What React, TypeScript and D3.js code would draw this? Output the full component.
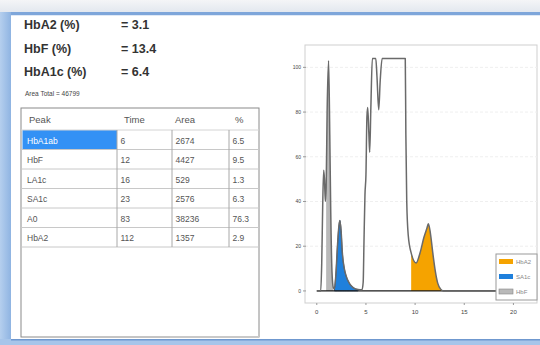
import { useMemo } from "react";
import { area, curveMonotoneX, line, scaleLinear } from "d3";

// summary values shown at the top left
const summaryLabels = ["HbA2 (%)", "HbF (%)", "HbA1c (%)"];
const summaryValues = ["= 3.1", "= 13.4", "= 6.4"];
const areaTotal = "Area Total = 46799";

// peak table
const tableHeader = ["Peak", "Time", "Area", "%"];
const peakNames = ["HbA1ab", "HbF", "LA1c", "SA1c", "A0", "HbA2"];
const peakTimes = ["6", "12", "16", "23", "83", "112"];
const peakAreas = ["2674", "4427", "529", "2576", "38236", "1357"];
const peakPercents = ["6.5", "9.5", "1.3", "6.3", "76.3", "2.9"];

// chromatogram trace: [time, signal]
const trace: [number, number][] = [
  [0, 0], [0.4, 0], [0.5, 12], [0.6, 38], [0.7, 54], [0.78, 50], [0.87, 40],
  [0.95, 46], [1.05, 80], [1.2, 103], [1.32, 70], [1.42, 35], [1.55, 8], [1.68, 1.5],
  [1.8, 1], [1.95, 8], [2.1, 20], [2.25, 29], [2.35, 31.5], [2.47, 27], [2.6, 17],
  [2.8, 10], [3.0, 6.5], [3.3, 3.5], [3.7, 1.5], [4.2, 0.6], [4.6, 0.5],
  [4.72, 4], [4.8, 22], [4.9, 43], [5.0, 52], [5.1, 78], [5.18, 82], [5.3, 70],
  [5.38, 62], [5.5, 82], [5.65, 104], [6.0, 104], [6.12, 96], [6.3, 81], [6.45, 94],
  [6.65, 104], [9.0, 104], [9.06, 70], [9.15, 40], [9.3, 25], [9.6, 17],
  [10.1, 12.5], [10.5, 17], [10.9, 24], [11.2, 28], [11.35, 30], [11.55, 26],
  [11.8, 17], [12.05, 9], [12.3, 3.5], [12.6, 0.8], [12.85, 0], [22.4, 0],
];

// highlighted peaks (legend order)
const legendNames = ["HbA2", "SA1c", "HbF"];
const legendColors = ["#f5a300", "#1f80dc", "#b9b9b9"];
const fillRanges: [number, number][] = [[9.4, 12.85], [1.8, 4.4], [0.9, 1.68]];

const yTicks = [0, 20, 40, 60, 80, 100];
const xTicks = [0, 5, 10, 15, 20];

const font = "'Liberation Sans', Arial, sans-serif";

export default function App() {
  const frame = { left: 305, right: 537, top: 45, bottom: 303 };
  const x = scaleLinear().domain([-1.2, 22.4]).range([frame.left, frame.right]);
  const y = scaleLinear().domain([-5.4, 110]).range([frame.bottom, frame.top]);

  const linePath = useMemo(
    () =>
      line<[number, number]>()
        .x((d) => x(d[0]))
        .y((d) => y(d[1]))
        .curve(curveMonotoneX)(trace) ?? "",
    []
  );

  const fillPaths = fillRanges.map(([a, b]) =>
    area<[number, number]>()
      .x((d) => x(d[0]))
      .y0(y(0))
      .y1((d) => y(d[1]))
      .curve(curveMonotoneX)(trace.filter((d) => d[0] >= a && d[0] <= b)) ?? ""
  );

  // table geometry
  const tLeft = 21;
  const tRight = 259;
  const tTop = 108;
  const headH = 22;
  const rowH = 19.5;
  const colX = [21, 117, 172, 229, 259];
  const rows = peakNames.map((name, i) => [name, peakTimes[i], peakAreas[i], peakPercents[i]]);

  return (
    <div style={{ position: "absolute", left: 0, top: 0 }}>
      <svg width={540} height={345} style={{ display: "block", fontFamily: font }}>
        <defs>
          <linearGradient id="topStrip" x1="0" y1="0" x2="0" y2="1">
            <stop offset="0" stopColor="#f4f5f7" />
            <stop offset="1" stopColor="#e3e8ef" />
          </linearGradient>
          <linearGradient id="sideBlue" x1="0" y1="0" x2="1" y2="0">
            <stop offset="0" stopColor="#b5cfee" />
            <stop offset="1" stopColor="#8fb4e2" />
          </linearGradient>
        </defs>

        {/* window chrome */}
        <rect x={0} y={0} width={540} height={345} fill="#ffffff" />
        <rect x={0} y={0} width={540} height={12} fill="url(#topStrip)" />
        <rect x={0} y={12} width={540} height={3.5} fill="#7ea6da" />
        <rect x={0} y={12} width={11} height={333} fill="url(#sideBlue)" />
        <rect x={0} y={339} width={540} height={6} fill="#a7c5ea" />
        <rect x={11} y={339} width={529} height={1.5} fill="#6f98cf" />
        <rect x={11} y={15.5} width={529} height={323.5} fill="#ffffff" />

        {/* summary */}
        {summaryLabels.map((lbl, i) => (
          <g key={lbl} fontSize={12.5} fontWeight={700} fill="#333">
            <text x={24} y={29 + i * 23.5}>{lbl}</text>
            <text x={121} y={29 + i * 23.5}>{summaryValues[i]}</text>
          </g>
        ))}
        <text x={25} y={96} fontSize={6.5} fill="#444">{areaTotal}</text>

        {/* table */}
        <rect x={tLeft} y={tTop} width={tRight - tLeft} height={229} fill="#fff" stroke="#8a8a8a" strokeWidth={1} />
        {tableHeader.map((h, j) => (
          <text key={h} x={[29, 124, 175, 235][j]} y={tTop + 15} fontSize={9.5} fill="#555">
            {h}
          </text>
        ))}
        <rect x={tLeft + 1.5} y={tTop + headH} width={colX[1] - tLeft - 1.5} height={rowH} fill="#3391f5" />
        {rows.map((r, i) => {
          const top = tTop + headH + i * rowH;
          return (
            <g key={r[0]}>
              <line x1={tLeft} x2={tRight} y1={top + rowH} y2={top + rowH} stroke="#c8c8c8" strokeWidth={1} />
              {r.map((cell, j) => (
                <text
                  key={j}
                  x={colX[j] + (j === 0 ? 6 : 3.5)}
                  y={top + 13.5}
                  fontSize={8.5}
                  fill={i === 0 && j === 0 ? "#ffffff" : "#555"}
                >
                  {cell}
                </text>
              ))}
            </g>
          );
        })}
        <line x1={tLeft} x2={tRight} y1={tTop + headH} y2={tTop + headH} stroke="#d4d4d4" />
        {colX.slice(1, 4).map((cx) => (
          <line key={cx} x1={cx} x2={cx} y1={tTop + headH} y2={tTop + headH + rows.length * rowH} stroke="#a8a8a8" />
        ))}
        <rect x={170} y={336} width={89} height={2} fill="#c9c9c9" />

        {/* chart frame and grid */}
        <rect x={frame.left} y={frame.top} width={frame.right - frame.left} height={frame.bottom - frame.top} fill="#fff" stroke="#cfcfcf" />
        {yTicks.slice(1).map((t) => (
          <line key={t} x1={frame.left} x2={frame.right} y1={y(t)} y2={y(t)} stroke="#efefef" strokeDasharray="3 2" />
        ))}
        {yTicks.map((t) => (
          <g key={t}>
            <line x1={frame.left - 2} x2={frame.left + 1} y1={y(t)} y2={y(t)} stroke="#999" />
            <text x={frame.left - 4} y={y(t) + 2} fontSize={5} textAnchor="end" fill="#444">{t}</text>
          </g>
        ))}
        {xTicks.map((t) => (
          <g key={t}>
            <line x1={x(t)} x2={x(t)} y1={frame.bottom} y2={frame.bottom + 2} stroke="#999" />
            <text x={x(t)} y={frame.bottom + 11} fontSize={6} textAnchor="middle" fill="#444">{t}</text>
          </g>
        ))}

        {/* peaks */}
        {fillPaths.map((p, i) => (
          <path key={legendNames[i]} d={p} fill={legendColors[i]} stroke={i === 1 ? "#1d3f66" : "none"} strokeWidth={0.8} />
        ))}
        <line x1={x(0)} x2={frame.right} y1={y(0)} y2={y(0)} stroke="#1a1a1a" strokeWidth={1.2} />
        <path d={linePath} fill="none" stroke="#6a6a6a" strokeWidth={1.5} strokeLinejoin="round" />

        {/* legend */}
        <rect x={496} y={254} width={41} height={46} fill="#fff" stroke="#9a9a9a" />
        {legendNames.map((n, i) => (
          <g key={n}>
            <rect x={499} y={259 + i * 15} width={14} height={5} fill={legendColors[i]} stroke={i === 2 ? "#888" : "none"} strokeWidth={0.6} />
            <text x={516} y={264 + i * 15} fontSize={6} fill="#888">{n}</text>
          </g>
        ))}
      </svg>
    </div>
  );
}
